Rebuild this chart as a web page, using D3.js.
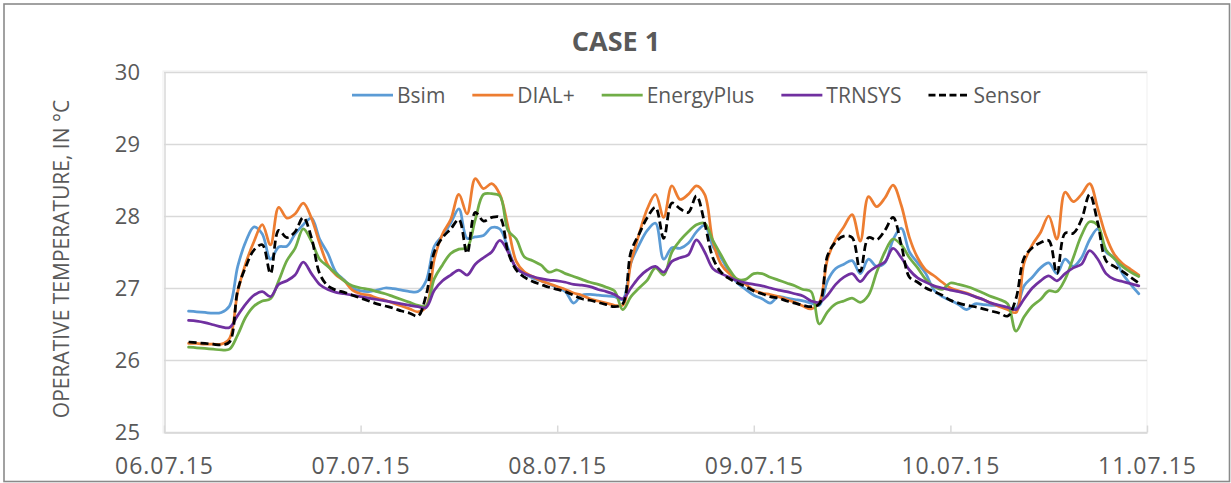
<!DOCTYPE html>
<html>
<head>
<meta charset="utf-8">
<script src="https://cdn.jsdelivr.net/npm/d3@7"></script>
<style>
  html, body { margin: 0; padding: 0; background: #fff; }
  svg { display: block; }
  text { font-family: "Open Sans", "Noto Sans", sans-serif; fill: #595959; }
</style>
</head>
<body>
<svg id="chart" width="1231" height="483"></svg>
<script>
// Hourly samples, hours counted from 06.07.15 00:00
const hours = d3.range(3, 120);

const bsim = [
  26.68, 26.67, 26.66, 26.65, 26.66,
  26.75, 27.30, 27.65, 27.85, 27.75,
  27.40, 27.57, 27.58, 27.75, 27.88,
  27.97, 27.68, 27.48, 27.22, 27.11,
  27.00, 26.96, 26.95, 26.97, 27.00,
  26.99, 26.97, 26.95, 26.95, 27.10,
  27.58, 27.73, 27.90, 28.10, 27.69,
  27.71, 27.73, 27.84, 27.82, 27.55,
  27.27, 27.20, 27.14, 27.10, 27.06,
  27.00, 26.95, 26.79, 26.90, 26.91,
  26.90, 26.89, 26.88, 26.84, 27.35,
  27.60, 27.80, 27.90, 27.40, 27.56,
  27.55, 27.62, 27.78, 27.87, 27.58,
  27.42, 27.22, 27.07, 26.98, 26.90,
  26.85, 26.79, 26.88, 26.86, 26.84,
  26.82, 26.79, 26.76, 27.10, 27.27,
  27.33, 27.38, 27.20, 27.40, 27.30,
  27.35, 27.67, 27.83, 27.50, 27.35,
  27.20, 26.97, 26.88, 26.83, 26.77,
  26.70, 26.78, 26.77, 26.76, 26.75,
  26.72, 26.72, 27.03, 27.15, 27.28,
  27.35, 27.20, 27.40, 27.30, 27.42,
  27.67, 27.82, 27.50, 27.42, 27.20,
  27.05, 26.92
];

const dialPlus = [
  26.23, 26.23, 26.22, 26.22, 26.22,
  26.30, 26.95, 27.35, 27.65, 27.88,
  27.60, 28.12, 27.97, 28.03, 28.18,
  27.97, 27.62, 27.32, 27.18, 27.10,
  26.97, 26.92, 26.90, 26.86, 26.83,
  26.79, 26.75, 26.71, 26.67, 26.74,
  27.40, 27.75, 27.95, 28.30, 28.03,
  28.52, 28.38, 28.45, 28.30, 27.85,
  27.37, 27.22, 27.16, 27.10, 27.06,
  27.02, 26.98, 26.93, 26.90, 26.85,
  26.82, 26.79, 26.76, 26.76, 27.35,
  27.75, 28.10, 28.30, 27.98, 28.42,
  28.23, 28.30, 28.42, 28.30, 27.65,
  27.33, 27.20, 27.12, 27.05, 26.97,
  26.93, 26.91, 26.88, 26.84, 26.80,
  26.75, 26.71, 26.80, 27.40, 27.68,
  27.85, 28.02, 27.65, 28.27, 28.13,
  28.25, 28.43, 28.15, 27.70, 27.42,
  27.25, 27.17, 27.08, 27.00, 26.96,
  26.93, 26.88, 26.84, 26.79, 26.74,
  26.70, 26.66, 27.35, 27.60, 27.77,
  28.00, 27.68, 28.33, 28.20, 28.30,
  28.45, 28.10, 27.72, 27.47, 27.34,
  27.26, 27.18
];

const energyPlus = [
  26.18, 26.17, 26.16, 26.15, 26.14,
  26.15, 26.35, 26.60, 26.75, 26.82,
  26.85, 27.10, 27.38, 27.55, 27.82,
  27.65, 27.40, 27.30, 27.20, 27.10,
  27.03, 27.00, 26.98, 26.95, 26.92,
  26.88, 26.84, 26.80, 26.76, 26.75,
  27.13, 27.32, 27.48, 27.54, 27.56,
  27.95, 28.30, 28.31, 28.28, 27.80,
  27.68, 27.43, 27.38, 27.32, 27.22,
  27.25, 27.20, 27.16, 27.12, 27.08,
  27.05, 27.01, 26.96, 26.70, 26.88,
  27.00, 27.11, 27.28, 27.18, 27.50,
  27.66, 27.78, 27.88, 27.90, 27.66,
  27.46, 27.26, 27.12, 27.12, 27.20,
  27.20, 27.15, 27.11, 27.07, 27.03,
  26.98, 26.95, 26.50, 26.67, 26.78,
  26.82, 26.86, 26.80, 26.90, 27.22,
  27.50, 27.68, 27.60, 27.42, 27.28,
  27.12, 27.02, 26.98, 27.07, 27.05,
  27.02, 26.98, 26.93, 26.88, 26.84,
  26.78, 26.40, 26.60, 26.75, 26.84,
  26.96, 26.95, 27.12, 27.42, 27.73,
  27.92, 27.87, 27.53, 27.41, 27.30,
  27.22, 27.16
];

const trnsys = [
  26.55, 26.54, 26.52, 26.49, 26.46,
  26.45, 26.62, 26.78, 26.90, 26.95,
  26.88, 27.05, 27.10, 27.18, 27.36,
  27.20, 27.05, 26.98, 26.94, 26.92,
  26.90, 26.88, 26.86, 26.84, 26.82,
  26.80, 26.78, 26.76, 26.74, 26.73,
  26.97, 27.10, 27.18, 27.25, 27.18,
  27.33, 27.42, 27.50, 27.66, 27.50,
  27.28, 27.20, 27.16, 27.13, 27.11,
  27.10, 27.08, 27.05, 27.04, 27.02,
  26.98, 26.95, 26.91, 26.85, 27.00,
  27.15, 27.25, 27.30, 27.22, 27.37,
  27.42, 27.46, 27.67, 27.50, 27.27,
  27.20, 27.15, 27.10, 27.07, 27.05,
  27.03, 27.00, 26.97, 26.95, 26.92,
  26.89, 26.82, 26.80, 26.90, 27.05,
  27.15, 27.20, 27.09, 27.22, 27.30,
  27.36, 27.55, 27.42, 27.25, 27.14,
  27.08, 27.03, 27.00, 26.97, 26.95,
  26.92, 26.88, 26.84, 26.79, 26.76,
  26.73, 26.70, 26.85, 27.00, 27.10,
  27.17, 27.10, 27.20, 27.28, 27.33,
  27.52, 27.40, 27.20, 27.12, 27.09,
  27.06, 27.03
];

const sensor = [
  26.25, 26.24, 26.23, 26.22, 26.21,
  26.25, 26.97, 27.30, 27.53, 27.60,
  27.20, 27.80, 27.70, 27.78, 27.98,
  27.70, 27.20, 27.03, 26.97, 26.94,
  26.90, 26.86, 26.82, 26.78, 26.75,
  26.72, 26.68, 26.65, 26.61, 26.90,
  27.50, 27.70, 27.82, 27.95, 27.48,
  28.05, 27.93, 27.98, 27.98, 27.50,
  27.25, 27.15, 27.09, 27.05, 27.01,
  26.98, 26.95, 26.90, 26.85, 26.83,
  26.80, 26.77, 26.74, 26.78, 27.50,
  27.75, 27.98, 28.12, 27.69, 28.18,
  28.10, 28.05, 28.28, 27.90, 27.42,
  27.22, 27.13, 27.07, 27.02, 26.96,
  26.92, 26.88, 26.86, 26.82, 26.79,
  26.76, 26.74, 26.78, 27.45, 27.64,
  27.72, 27.70, 27.23, 27.70, 27.67,
  27.80, 27.98, 27.60, 27.15, 27.08,
  27.00, 26.95, 26.90, 26.83, 26.79,
  26.76, 26.74, 26.71, 26.68, 26.65,
  26.61, 26.85, 27.42, 27.56, 27.63,
  27.66, 27.20, 27.76, 27.76, 27.95,
  28.30, 27.90, 27.38, 27.30, 27.23,
  27.15, 27.07
];

const seriesNames = ["Bsim", "DIAL+", "EnergyPlus", "TRNSYS", "Sensor"];
const seriesColors = ["#5B9BD5", "#ED7D31", "#70AD47", "#7030A0", "#000000"];
const seriesValues = [bsim, dialPlus, energyPlus, trnsys, sensor];

const dayTicks = [0, 24, 48, 72, 96, 120];
const dayLabels = ["06.07.15", "07.07.15", "08.07.15", "09.07.15", "10.07.15", "11.07.15"];
const tempTicks = [25, 26, 27, 28, 29, 30];

const chartTitle = "CASE 1";
const yTitle = "OPERATIVE TEMPERATURE, IN °C";

const svg = d3.select("#chart");

// outer chart frame
svg.append("rect")
  .attr("x", 4).attr("y", 4).attr("width", 1225.5).attr("height", 477.5)
  .attr("fill", "#fff").attr("stroke", "#8a8a8a").attr("stroke-width", 1.6);

const plot = { left: 164, right: 1147, top: 72, bottom: 432 };

const x = d3.scaleLinear().domain([0, 120]).range([plot.left, plot.right]);
const y = d3.scaleLinear().domain([25, 30]).range([plot.bottom, plot.top]);

// plot area frame
svg.append("rect")
  .attr("x", plot.left - 1).attr("y", plot.top - 1)
  .attr("width", plot.right - plot.left + 1).attr("height", plot.bottom - plot.top + 2)
  .attr("fill", "none").attr("stroke", "#efefef").attr("stroke-width", 1);

// horizontal gridlines
svg.append("g")
  .selectAll("line")
  .data(tempTicks)
  .join("line")
  .attr("x1", plot.left).attr("x2", plot.right)
  .attr("y1", d => y(d) + 0.5).attr("y2", d => y(d) + 0.5)
  .attr("stroke", "#d9d9d9").attr("stroke-width", 1.5);

// vertical axis line
svg.append("line")
  .attr("x1", plot.left + 1).attr("x2", plot.left + 1)
  .attr("y1", plot.top).attr("y2", plot.bottom)
  .attr("stroke", "#d9d9d9").attr("stroke-width", 1.5);

// x axis with inward tick marks
const xAxis = d3.axisBottom(x)
  .tickValues(dayTicks)
  .tickFormat((d, i) => dayLabels[i])
  .tickSizeInner(-7)
  .tickSizeOuter(0)
  .tickPadding(25);

const gx = svg.append("g")
  .attr("transform", `translate(0,${plot.bottom + 0.5})`)
  .call(xAxis);
gx.select(".domain").attr("stroke", "#d9d9d9").attr("stroke-width", 1.5);
gx.selectAll(".tick line").attr("stroke", "#d9d9d9").attr("stroke-width", 1.5);
gx.selectAll(".tick text")
  .attr("fill", "#595959")
  .style("font-family", "'Open Sans', sans-serif")
  .style("font-size", "23px")
  .style("letter-spacing", "1px")
  .attr("dy", "0.71em");

// y axis labels
const yAxis = d3.axisLeft(y)
  .tickValues(tempTicks)
  .tickFormat(d3.format("d"))
  .tickSize(0)
  .tickPadding(24);
const gy = svg.append("g")
  .attr("transform", `translate(${plot.left},0)`)
  .call(yAxis);
gy.select(".domain").remove();
gy.selectAll(".tick text")
  .attr("fill", "#595959")
  .style("font-family", "'Open Sans', sans-serif")
  .style("font-size", "22px");

// series lines
const line = d3.line()
  .x((d, i) => x(hours[i]))
  .y(d => y(d))
  .curve(d3.curveCatmullRom.alpha(0.5));

const lines = svg.append("g").attr("fill", "none");
seriesValues.forEach((vals, k) => {
  const p = lines.append("path")
    .datum(vals)
    .attr("d", line)
    .attr("stroke", seriesColors[k])
    .attr("stroke-width", 2.75)
    .attr("stroke-linejoin", "round");
  if (seriesNames[k] === "Sensor") {
    p.attr("stroke-dasharray", "8,4");
  } else {
    p.attr("stroke-linecap", "round");
  }
});

// title
svg.append("text")
  .attr("x", 616).attr("y", 51)
  .attr("text-anchor", "middle")
  .style("font-size", "27px")
  .style("font-weight", "bold")
  .text(chartTitle);

// y axis title
svg.append("text")
  .attr("transform", "translate(69,259) rotate(-90)")
  .attr("text-anchor", "middle")
  .style("font-size", "21px")
  .text(yTitle);

// legend
const legend = svg.append("g");
let lx = 352;
seriesNames.forEach((name, k) => {
  const item = legend.append("g");
  const l = item.append("line")
    .attr("x1", lx).attr("x2", lx + 41)
    .attr("y1", 95).attr("y2", 95)
    .attr("stroke", seriesColors[k])
    .attr("stroke-width", 2.75);
  if (name === "Sensor") l.attr("stroke-dasharray", "7,3.5");
  const t = item.append("text")
    .attr("x", lx + 45).attr("y", 103)
    .style("font-size", "21px")
    .text(name);
  lx += 45 + t.node().getComputedTextLength() + 27;
});
</script>
</body>
</html>
